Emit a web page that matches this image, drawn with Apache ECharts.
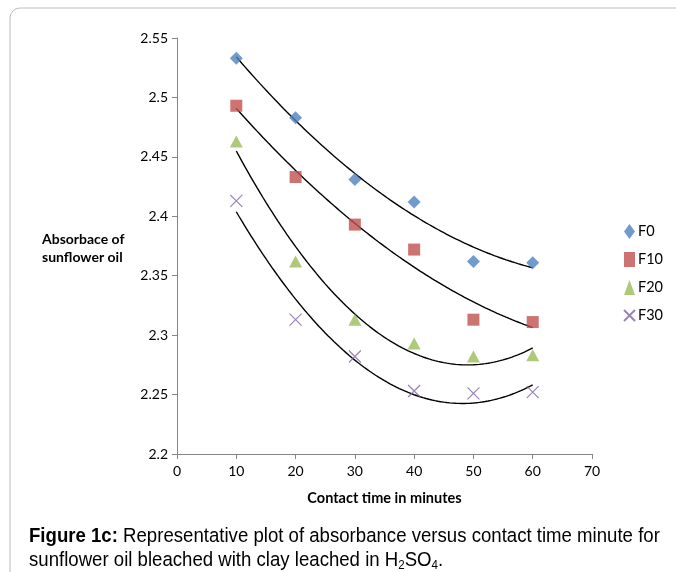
<!DOCTYPE html>
<html><head><meta charset="utf-8">
<script src="https://cdn.jsdelivr.net/npm/echarts@6/dist/echarts.min.js"></script>
<style>html,body{margin:0;padding:0;background:#fff}#c{width:676px;height:572px}</style>
</head><body><div id="c"></div>
<script>
var times = [10, 20, 30, 40, 50, 60];
var F0  = [2.533, 2.483, 2.431, 2.412, 2.362, 2.361];
var F10 = [2.493, 2.433, 2.393, 2.372, 2.313, 2.311];
var F20 = [2.463, 2.362, 2.313, 2.293, 2.282, 2.283];
var F30 = [2.413, 2.313, 2.282, 2.253, 2.251, 2.252];
var seriesNames = ['F0', 'F10', 'F20', 'F30'];
var xTicks = [0, 10, 20, 30, 40, 50, 60, 70];
var yTicks = [2.2, 2.25, 2.3, 2.35, 2.4, 2.45, 2.5, 2.55];

// least squares quadratic trendline (as Excel's polynomial order 2)
function quadFit(xs, ys) {
  var n = xs.length, S = [0,0,0,0,0], T = [0,0,0];
  for (var i = 0; i < n; i++) {
    var p = 1;
    for (var k = 0; k < 5; k++) { S[k] += p; if (k < 3) T[k] += p * ys[i]; p *= xs[i]; }
  }
  var A = [[S[0],S[1],S[2],T[0]],[S[1],S[2],S[3],T[1]],[S[2],S[3],S[4],T[2]]];
  for (var c = 0; c < 3; c++) {
    for (var r = c + 1; r < 3; r++) {
      var f = A[r][c] / A[c][c];
      for (var j = c; j < 4; j++) A[r][j] -= f * A[c][j];
    }
  }
  var co = [0,0,0];
  for (var r2 = 2; r2 >= 0; r2--) {
    var s = A[r2][3];
    for (var j2 = r2 + 1; j2 < 3; j2++) s -= A[r2][j2] * co[j2];
    co[r2] = s / A[r2][r2];
  }
  return function (x) { return co[0] + co[1] * x + co[2] * x * x; };
}
function trend(ys) {
  var f = quadFit(times, ys), pts = [];
  var x0 = times[0], x1 = times[times.length - 1];
  for (var i = 0; i <= 100; i++) { var x = x0 + (x1 - x0) * i / 100; pts.push([x, f(x)]); }
  return pts;
}
function pairs(ys) { return times.map(function (t, i) { return [t, ys[i]]; }); }

var colors = ['#4F81BD', '#C0504D', '#9BBB59', '#8064A2'];
var symbols = ['diamond', 'rect', 'triangle', 'path://M0,0L10,10M10,0L0,10'];
var sizes = [[13,13], [12,12], [13,12], [12,12]];
var allData = [F0, F10, F20, F30];
var font = 'Lato, "Open Sans", sans-serif';
var capFont = '"Liberation Sans", Arial, sans-serif';

var series = [];
allData.forEach(function (d, i) {
  var isX = i === 3;
  series.push({
    name: seriesNames[i], type: 'scatter', data: pairs(d),
    symbol: symbols[i], symbolSize: sizes[i], z: 3,
    itemStyle: isX ? { color: 'rgba(0,0,0,0)', borderColor: colors[i], borderWidth: 1.2 } : { color: colors[i] }
  });
});
allData.forEach(function (d) {
  series.push({
    type: 'line', data: trend(d), showSymbol: false, symbol: 'none', silent: true, z: 2,
    lineStyle: { color: '#000', width: 1.4 }
  });
});

var chart = echarts.init(document.getElementById('c'));
chart.setOption({
  animation: false,
  backgroundColor: '#fff',
  grid: { left: 177, right: 84, top: 38, bottom: 118, containLabel: false },
  xAxis: {
    type: 'value', min: 0, max: 70, interval: 10,
    name: 'Contact time in minutes', nameLocation: 'middle', nameGap: 37,
    nameTextStyle: { fontFamily: font, fontWeight: 'bold', fontSize: 14.5, color: '#000' },
    axisLine: { show: true, lineStyle: { color: '#868686' } },
    axisTick: { show: true, length: 5, lineStyle: { color: '#868686' } },
    axisLabel: { fontFamily: font, fontSize: 14, color: '#000', margin: 10 },
    splitLine: { show: false }
  },
  yAxis: {
    type: 'value', min: 2.2, max: 2.55, interval: 0.05,
    axisLine: { show: true, lineStyle: { color: '#868686' } },
    axisTick: { show: true, length: 5, lineStyle: { color: '#868686' } },
    axisLabel: { fontFamily: font, fontSize: 14, color: '#000', margin: 9,
      formatter: function (v) { return String(parseFloat(v.toFixed(2))); } },
    splitLine: { show: false }
  },
  legend: {
    orient: 'vertical', left: 618, top: 219, itemGap: 13, itemWidth: 11, itemHeight: 15,
    data: seriesNames,
    textStyle: { fontFamily: font, fontSize: 14.5, color: '#000', padding: [0,0,0,-2] }
  },
  graphic: [
    { type: 'rect', shape: { x: 10, y: 8, width: 700, height: 600, r: 10 }, silent: true, z: -10,
      style: { fill: 'none', stroke: '#bdbdbd', lineWidth: 1 } },
    { type: 'text', left: 42, top: 230, style: { text: 'Absorbace of\nsunflower oil', fontFamily: font,
      fontWeight: 'bold', fontSize: 14, lineHeight: 18, fill: '#000' } },
    { type: 'text', x: 29, y: 525, scaleX: 0.965, style: {
      text: '{b|Figure 1c:} Representative plot of absorbance versus contact time minute for\nsunflower oil bleached with clay leached in H{s|2}SO{s|4}.',
      fontFamily: capFont, fontSize: 19.3, lineHeight: 24, fill: '#000',
      rich: {
        b: { fontFamily: capFont, fontWeight: 'bold', fontSize: 19.3, lineHeight: 24 },
        s: { fontFamily: capFont, fontSize: 12, lineHeight: 24, padding: [10, 0, 0, 0] }
      } } }
  ],
  series: series
});
</script></body></html>
